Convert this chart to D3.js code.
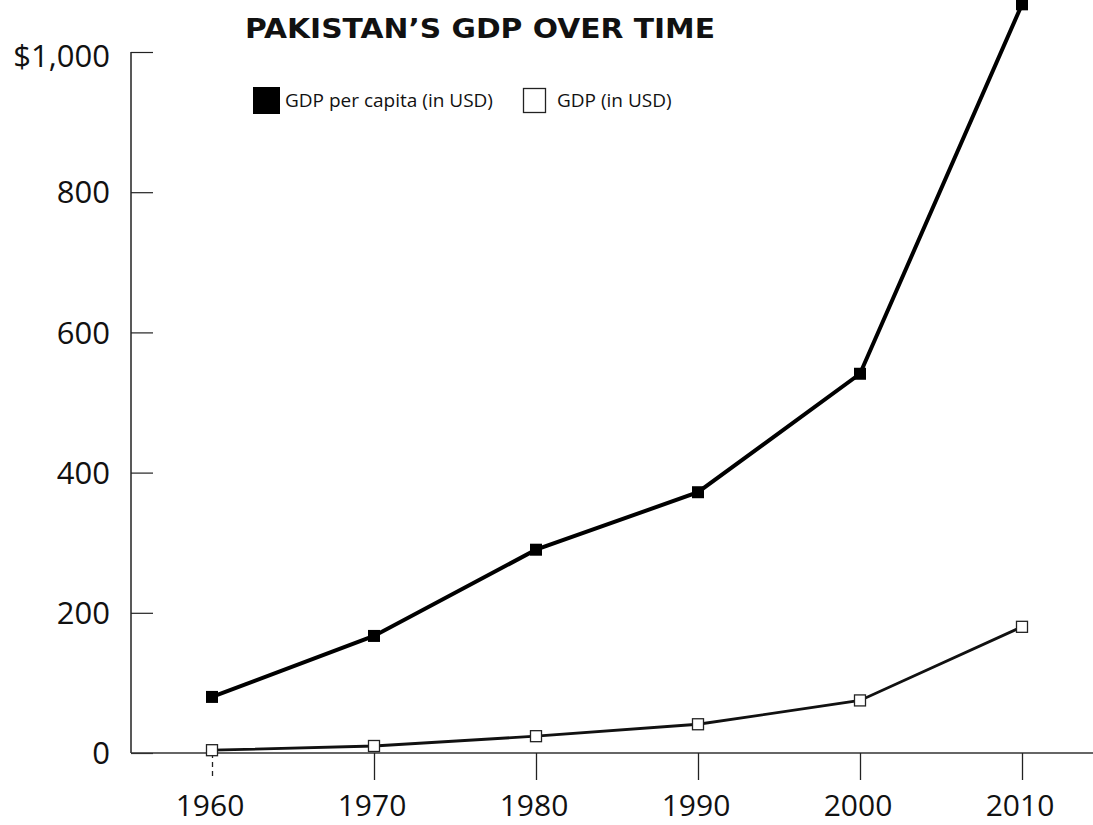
<!DOCTYPE html>
<html>
<head>
<meta charset="utf-8">
<script src="https://cdn.jsdelivr.net/npm/d3@7"></script>
<style>
  body { margin: 0; background: #fff; }
  text { font-family: "Open Sans", "Noto Sans", sans-serif; fill: #111; }
</style>
</head>
<body>
<div id="chart"></div>
<script>
// data
var years = [1960, 1970, 1980, 1990, 2000, 2010];
var gdpPerCapita = [80, 167, 290, 372, 541, 1068];
var gdpTotal = [4, 10, 24, 41, 75, 180];
var yTicks = [0, 200, 400, 600, 800, 1000];
var seriesNames = ["GDP per capita (in USD)", "GDP (in USD)"];

var W = 1093, H = 825;

var svg = d3.select("#chart")
  .append("svg")
    .attr("width", W)
    .attr("height", H);

// scales
var x = d3.scaleLinear()
  .domain([1960, 2010])
  .range([212, 1022]);

var y = d3.scaleLinear()
  .domain([0, 1000])
  .range([753, 52]);

var axisLeftX = 131;

// Y axis: ticks point inward (to the right)
var yAxis = svg.append("g")
  .attr("transform", "translate(" + axisLeftX + ",0)")
  .call(d3.axisRight(y).tickValues(yTicks).tickSize(22).tickFormat(""));
yAxis.select(".domain").remove();
yAxis.selectAll("line").attr("stroke", "#222").attr("stroke-width", 1.2);

svg.append("line")
  .attr("x1", axisLeftX).attr("x2", axisLeftX)
  .attr("y1", y(1000)).attr("y2", y(0))
  .attr("stroke", "#222").attr("stroke-width", 1.5);

svg.selectAll(".ylab")
  .data(yTicks)
  .enter()
  .append("text")
    .attr("class", "ylab")
    .attr("x", 110)
    .attr("y", function(d) { return y(d) + (d == 1000 ? 4 : 0); })
    .attr("dy", "0.36em")
    .attr("text-anchor", "end")
    .style("font-size", "31px")
    .text(function(d) { return d == 1000 ? "$1,000" : d; });

// X axis
svg.append("line")
  .attr("x1", axisLeftX).attr("x2", W)
  .attr("y1", y(0)).attr("y2", y(0))
  .attr("stroke", "#333").attr("stroke-width", 1.5);

var xAxis = svg.append("g")
  .attr("transform", "translate(0," + y(0) + ")")
  .call(d3.axisBottom(x).tickValues(years).tickSize(27).tickFormat(""));
xAxis.select(".domain").remove();
xAxis.selectAll("line").attr("stroke", "#222").attr("stroke-width", 1.3);
xAxis.selectAll("line").filter(function(d) { return d == 1960; }).attr("stroke-dasharray", "5,4");

svg.selectAll(".xlab")
  .data(years)
  .enter()
  .append("text")
    .attr("class", "xlab")
    .attr("x", function(d) { return x(d) - 2; })
    .attr("y", 816)
    .attr("text-anchor", "middle")
    .style("font-size", "30px")
    .text(function(d) { return d; });

// title
svg.append("text")
  .attr("x", 245)
  .attr("y", 38)
  .attr("textLength", 470)
  .attr("lengthAdjust", "spacingAndGlyphs")
  .style("font-family", "'DejaVu Sans', sans-serif")
  .style("font-size", "27px")
  .style("font-weight", "bold")
  .text("PAKISTAN\u2019S GDP OVER TIME");

// legend
svg.append("rect")
  .attr("x", 253).attr("y", 87).attr("width", 27).attr("height", 27)
  .attr("fill", "#000");
svg.append("text")
  .attr("x", 285).attr("y", 107)
  .style("font-size", "19px")
  .text(seriesNames[0]);
svg.append("rect")
  .attr("x", 523.5).attr("y", 88.5).attr("width", 22).attr("height", 24)
  .attr("fill", "#fff").attr("stroke", "#222").attr("stroke-width", 1.3);
svg.append("text")
  .attr("x", 557).attr("y", 107)
  .style("font-size", "19px")
  .text(seriesNames[1]);

// lines
var perCapData = years.map(function(d, i) { return {year: d, value: gdpPerCapita[i]}; });
var totalData = years.map(function(d, i) { return {year: d, value: gdpTotal[i]}; });

var line = d3.line()
  .x(function(d) { return x(d.year); })
  .y(function(d) { return y(d.value); });

svg.append("path")
  .datum(totalData)
  .attr("d", line)
  .attr("fill", "none")
  .attr("stroke", "#111")
  .attr("stroke-width", 2.8);

svg.append("path")
  .datum(perCapData)
  .attr("d", line)
  .attr("fill", "none")
  .attr("stroke", "#000")
  .attr("stroke-width", 4);

// markers
var ms = 11;
svg.selectAll(".mTotal")
  .data(totalData)
  .enter()
  .append("rect")
    .attr("class", "mTotal")
    .attr("x", function(d) { return x(d.year) - ms / 2; })
    .attr("y", function(d) { return y(d.value) - ms / 2; })
    .attr("width", ms).attr("height", ms)
    .attr("fill", "#fff")
    .attr("stroke", "#222")
    .attr("stroke-width", 1.3);

svg.selectAll(".mPer")
  .data(perCapData)
  .enter()
  .append("rect")
    .attr("class", "mPer")
    .attr("x", function(d) { return x(d.year) - 6; })
    .attr("y", function(d) { return y(d.value) - 6; })
    .attr("width", 12).attr("height", 12)
    .attr("fill", "#000");
</script>
</body>
</html>
